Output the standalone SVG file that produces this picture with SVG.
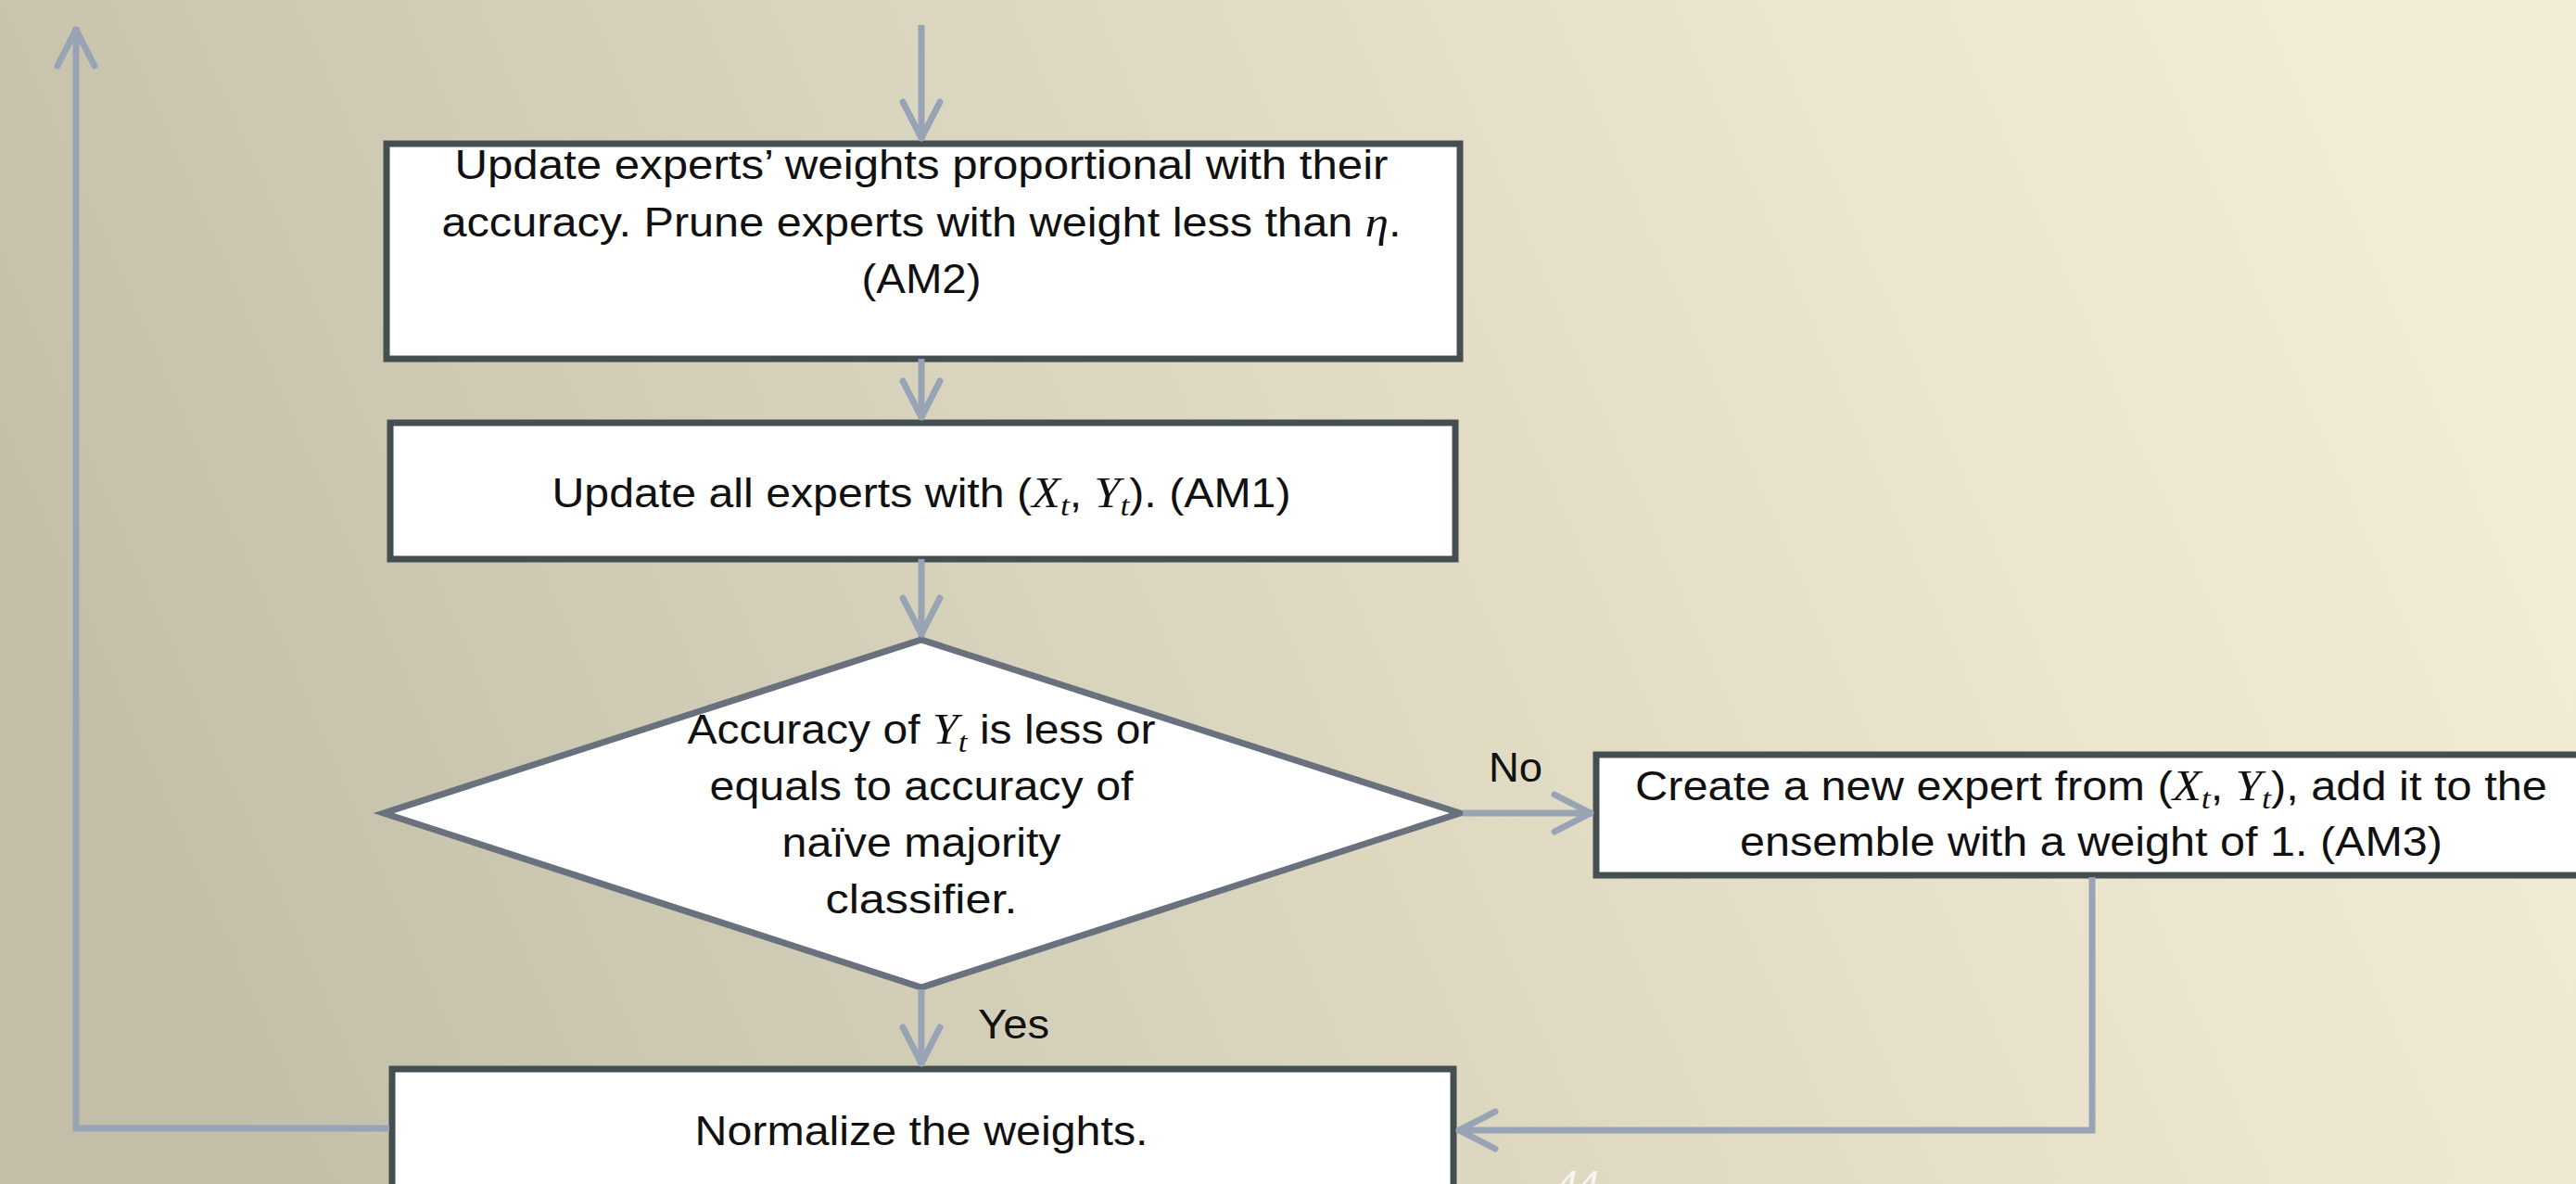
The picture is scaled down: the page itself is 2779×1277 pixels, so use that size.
<svg xmlns="http://www.w3.org/2000/svg" width="2779" height="1277" viewBox="0 0 2779 1277">
<style>
.box{fill:#ffffff;stroke:#454e50;stroke-width:7}
.dia{fill:#ffffff;stroke:#69717e;stroke-width:7;stroke-linejoin:miter}
.t{font-family:"Liberation Sans",Arial,sans-serif;font-size:44px;fill:#111111}
.c{text-anchor:middle}
.m{font-family:"Liberation Serif","DejaVu Serif",serif;font-style:italic;font-size:46px}
.s{font-family:"Liberation Serif","DejaVu Serif",serif;font-style:italic;font-size:32px}
.con{fill:none;stroke:#98a4b6;stroke-width:7}
.pg{font-family:"Liberation Sans",Arial,sans-serif;font-style:italic;font-size:42px;fill:#ffffff;fill-opacity:0.75}
</style>
<defs>
<linearGradient id="bg" x1="0" y1="0.5" x2="1" y2="0.3">
<stop offset="0" stop-color="#c2bea7"/>
<stop offset="0.4" stop-color="#d9d4bd"/>
<stop offset="0.75" stop-color="#ebe5cd"/>
<stop offset="1" stop-color="#f3edd7"/>
</linearGradient>
<marker id="arr" markerUnits="userSpaceOnUse" viewBox="0 0 52 52" refX="48" refY="26" markerWidth="52" markerHeight="52" orient="auto">
<path d="M 6 6 L 45 26 L 6 46" fill="none" stroke="#98a4b6" stroke-width="7" stroke-linecap="round" stroke-linejoin="round"/>
</marker>
</defs>
<rect x="0" y="0" width="2779" height="1277" fill="url(#bg)"/>

<g id="node-am2">
<rect class="box" x="417" y="155" width="1158" height="232"/>
<text class="t c" x="994" y="193" textLength="1007" lengthAdjust="spacingAndGlyphs">Update experts’ weights proportional with their</text>
<text class="t c" x="994" y="255" textLength="1035" lengthAdjust="spacingAndGlyphs">accuracy. Prune experts with weight less than <tspan class="m">η</tspan>.</text>
<text class="t c" x="994" y="316" textLength="129" lengthAdjust="spacingAndGlyphs">(AM2)</text>
</g>

<g id="node-am1">
<rect class="box" x="421" y="456" width="1149" height="147"/>
<text class="t c" x="994" y="547" textLength="797" lengthAdjust="spacingAndGlyphs">Update all experts with (<tspan class="m">X</tspan><tspan class="s" dy="9">t</tspan><tspan dy="-9">, </tspan><tspan class="m">Y</tspan><tspan class="s" dy="9">t</tspan><tspan dy="-9">). (AM1)</tspan></text>
</g>

<g id="node-decision">
<polygon class="dia" points="994,690 1575,877 994,1065 414,877"/>
<text class="t c" x="994" y="802" textLength="505" lengthAdjust="spacingAndGlyphs">Accuracy of <tspan class="m">Y</tspan><tspan class="s" dy="9">t</tspan><tspan dy="-9"> is less or</tspan></text>
<text class="t c" x="994" y="863" textLength="457" lengthAdjust="spacingAndGlyphs">equals to accuracy of</text>
<text class="t c" x="994" y="924" textLength="301" lengthAdjust="spacingAndGlyphs">naïve majority</text>
<text class="t c" x="994" y="985" textLength="207" lengthAdjust="spacingAndGlyphs">classifier.</text>
</g>

<g id="node-am3">
<rect class="box" x="1722" y="814" width="1070" height="130"/>
<text class="t c" x="2256" y="863" textLength="984" lengthAdjust="spacingAndGlyphs">Create a new expert from (<tspan class="m">X</tspan><tspan class="s" dy="9">t</tspan><tspan dy="-9">, </tspan><tspan class="m">Y</tspan><tspan class="s" dy="9">t</tspan><tspan dy="-9">), add it to the</tspan></text>
<text class="t c" x="2256" y="923" textLength="758" lengthAdjust="spacingAndGlyphs">ensemble with a weight of 1. (AM3)</text>
</g>

<g id="node-normalize">
<rect class="box" x="423" y="1153" width="1145" height="132"/>
<text class="t c" x="994" y="1235" textLength="489" lengthAdjust="spacingAndGlyphs">Normalize the weights.</text>
</g>

<g id="connectors">
<path class="con" d="M 994 27 L 994 152" marker-end="url(#arr)"/>
<path class="con" d="M 994 387 L 994 453" marker-end="url(#arr)"/>
<path class="con" d="M 994 603 L 994 687" marker-end="url(#arr)"/>
<path class="con" d="M 1578 877 L 1719 877" marker-end="url(#arr)"/>
<path class="con" d="M 994 1067 L 994 1150" marker-end="url(#arr)"/>
<path class="con" d="M 2257 946 L 2257 1219 L 1571 1219" marker-end="url(#arr)"/>
<path class="con" d="M 420 1217 L 82 1217 L 82 29" marker-end="url(#arr)"/>
<text class="t" x="1606" y="843" textLength="58" lengthAdjust="spacingAndGlyphs">No</text>
<text class="t" x="1055" y="1120" textLength="77" lengthAdjust="spacingAndGlyphs">Yes</text>
</g>

<text class="pg" x="1678" y="1292">44</text>
</svg>
